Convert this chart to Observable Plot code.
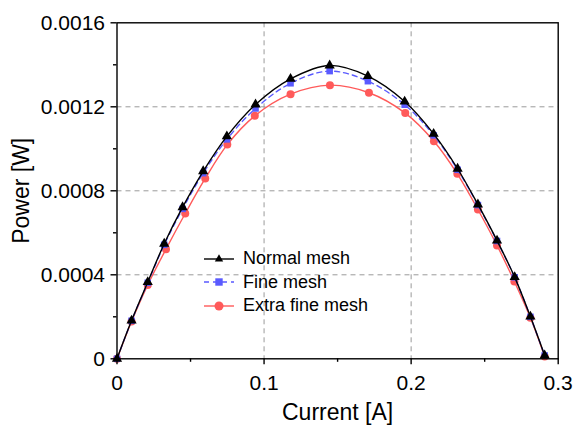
<!DOCTYPE html>
<html>
<head>
<meta charset="utf-8">
<script src="https://cdn.jsdelivr.net/npm/d3@7"></script>
<script src="https://cdn.jsdelivr.net/npm/@observablehq/plot@0.6"></script>
<style>
  html, body { margin: 0; padding: 0; background: #fff; }
  #wrap { position: relative; width: 573px; height: 425px; font-family: "Liberation Sans", Arial, sans-serif; }
  #legend { position: absolute; left: 204px; top: 247px; }
  .row { display: flex; align-items: center; height: 23.6px; }
  .row span { font-size: 18px; margin-left: 9px; color: #000; }
</style>
</head>
<body>
<div id="wrap"></div>
<script>
// Data
const normalCurrent = [0, 0.0099, 0.0209, 0.0321, 0.0446, 0.0586, 0.0747, 0.0942, 0.118, 0.1446, 0.1706, 0.1956, 0.2153, 0.2316, 0.2454, 0.2584, 0.2704, 0.2811, 0.2908];
const normalPower   = [0, 0.000182, 0.000365, 0.000548, 0.000722, 0.000893, 0.001059, 0.001211, 0.001333, 0.001397, 0.001346, 0.001225, 0.001071, 0.000905, 0.000735, 0.000563, 0.000389, 0.000201, 0.0000157];

const fineCurrent = [0, 0.0099, 0.0209, 0.0321, 0.0446, 0.0586, 0.0747, 0.0942, 0.118, 0.1446, 0.1706, 0.1956, 0.2153, 0.2316, 0.2454, 0.2584, 0.2704, 0.2811, 0.2908];
const finePower   = [0, 0.000181, 0.000362, 0.000543, 0.000714, 0.000884, 0.001045, 0.001192, 0.001312, 0.001370, 0.001322, 0.001210, 0.001064, 0.000900, 0.000732, 0.000561, 0.000388, 0.000200, 0.0000157];

const extraCurrent = [0, 0.0099, 0.0209, 0.0333, 0.0464, 0.0600, 0.0750, 0.0937, 0.118, 0.1448, 0.1713, 0.1960, 0.2155, 0.2314, 0.2454, 0.2584, 0.2702, 0.2811, 0.2908];
const extraPower   = [0, 0.000178, 0.000352, 0.000522, 0.000692, 0.000859, 0.001020, 0.001157, 0.001260, 0.001303, 0.001267, 0.001170, 0.001036, 0.000881, 0.000711, 0.000540, 0.000368, 0.000195, 0.000011];

const seriesNames = ["Normal mesh", "Fine mesh", "Extra fine mesh"];
const xTicks = [0, 0.1, 0.2, 0.3];
const xMinor = [0.05, 0.15, 0.25];
const yTicks = [0, 0.0004, 0.0008, 0.0012, 0.0016];
const yMinor = [0.0002, 0.0006, 0.001, 0.0014];

const BLACK = "#000000", BLUE = "#5a5aff", RED = "#ff5a5a";

const toRows = (xs, ys) => xs.map((x, i) => ({x, y: ys[i]}));
const normal = toRows(normalCurrent, normalPower);
const fine = toRows(fineCurrent, finePower);
const extra = toRows(extraCurrent, extraPower);

const fmt = d => d === 0 ? "0" : String(d);

const chart = Plot.plot({
  width: 573,
  height: 425,
  marginLeft: 116.5,
  marginRight: 15.3,
  marginTop: 22.3,
  marginBottom: 66.7,
  style: { fontFamily: "'Liberation Sans', Arial, sans-serif", background: "#fff", overflow: "visible" },
  x: { domain: [0, 0.3] },
  y: { domain: [0, 0.0016] },
  marks: [
    Plot.gridX(xTicks.filter(d => d > 0 && d < 0.3), { stroke: "#9a9a9a", strokeOpacity: 1, strokeDasharray: "5,4" }),
    Plot.gridY(yTicks.filter(d => d > 0 && d < 0.0016), { stroke: "#9a9a9a", strokeOpacity: 1, strokeDasharray: "5,4" }),
    Plot.line(extra, { x: "x", y: "y", stroke: RED, strokeWidth: 1.4, curve: "catmull-rom" }),
    Plot.dot(extra, { x: "x", y: "y", fill: RED, r: 4, symbol: "circle" }),
    Plot.line(fine, { x: "x", y: "y", stroke: BLUE, strokeWidth: 1.4, strokeDasharray: "5,4", curve: "catmull-rom" }),
    Plot.dot(fine, { x: "x", y: "y", fill: BLUE, r: 3.7, symbol: "square" }),
    Plot.line(normal, { x: "x", y: "y", stroke: BLACK, strokeWidth: 1.4, curve: "catmull-rom" }),
    Plot.dot(normal, { x: "x", y: "y", fill: BLACK, r: 3.8, symbol: "triangle" }),
    Plot.frame({ stroke: "#000", strokeWidth: 1.4 }),
    Plot.axisX(xTicks, { tickSize: 6, tickPadding: 10, fontSize: 21, tickFormat: fmt, strokeWidth: 1.4,
      label: "Current [A]", labelAnchor: "center", labelArrow: "none", labelOffset: 61 }),
    Plot.axisX(xMinor, { tickSize: 3.5, tickFormat: () => "", label: null, strokeWidth: 1.4 }),
    Plot.axisY(yTicks, { tickSize: 6, tickPadding: 6, fontSize: 21, tickFormat: fmt, strokeWidth: 1.4,
      label: "Power [W]", labelAnchor: "center", labelArrow: "none", labelOffset: 104 }),
    Plot.axisY(yMinor, { tickSize: 3.5, tickFormat: () => "", label: null, strokeWidth: 1.4 })
  ]
});

// make axis titles larger than tick labels
chart.querySelectorAll("g[aria-label='x-axis label'] text, g[aria-label='y-axis label'] text").forEach(t => t.setAttribute("font-size", "23"));
chart.querySelectorAll("g[aria-label='x-axis label'], g[aria-label='y-axis label']").forEach(g => g.setAttribute("font-size", "23"));

const wrap = document.getElementById("wrap");
wrap.appendChild(chart);

// Legend
const legend = document.createElement("div");
legend.id = "legend";
const styles = [
  { color: BLACK, dash: null, sym: "triangle" },
  { color: BLUE, dash: "5,4", sym: "square" },
  { color: RED, dash: null, sym: "circle" }
];
seriesNames.forEach((name, i) => {
  const s = styles[i];
  const row = document.createElement("div");
  row.className = "row";
  let marker;
  if (s.sym === "triangle") marker = `<path d="${d3.symbol(d3.symbolTriangle2, 50)()}" transform="translate(15,6)" fill="${s.color}"/>`;
  else if (s.sym === "square") marker = `<rect x="11.3" y="2.3" width="7.4" height="7.4" fill="${s.color}"/>`;
  else marker = `<circle cx="15" cy="6" r="4.5" fill="${s.color}"/>`;
  row.innerHTML = `<svg width="30" height="12"><line x1="0" x2="30" y1="6" y2="6" stroke="${s.color}" stroke-width="1.4" ${s.dash ? `stroke-dasharray="${s.dash}"` : ""}/>${marker}</svg><span>${name}</span>`;
  legend.appendChild(row);
});
wrap.appendChild(legend);
</script>
</body>
</html>
